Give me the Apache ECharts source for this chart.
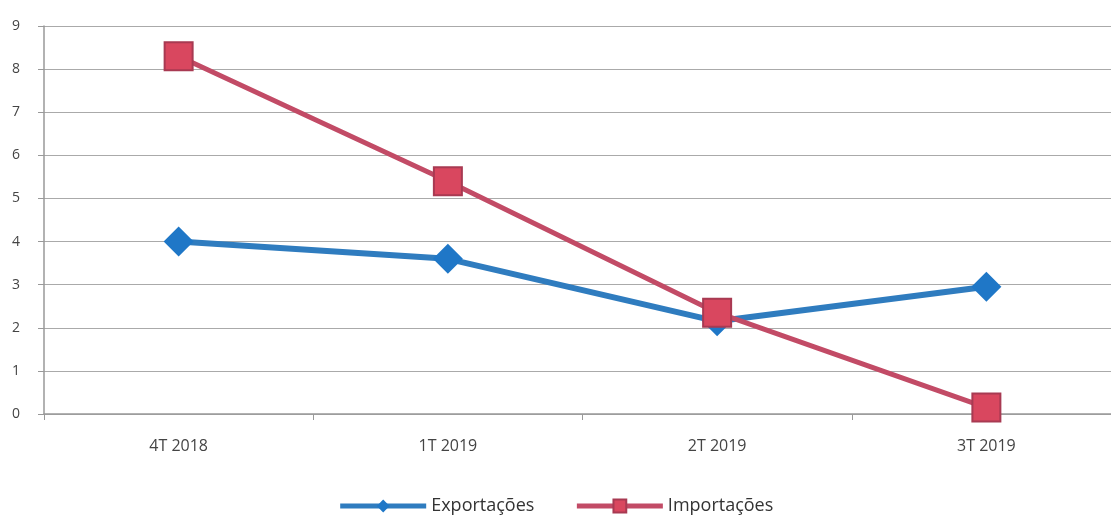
<!DOCTYPE html>
<html style="height: 100%">
<head>
    <meta charset="utf-8">
    <script src="https://cdn.jsdelivr.net/npm/echarts@6/dist/echarts.min.js"></script>
</head>
<body style="height: 100%; margin: 0; background: #fff">
    <div id="main" style="width:1111px; height:520px;"></div>
    <script type="text/javascript">
    // dados
    var trimestres = ['4T 2018', '1T 2019', '2T 2019', '3T 2019'];
    var exportacoes = [4.0, 3.6, 2.15, 2.95];
    var importacoes = [8.3, 5.4, 2.35, 0.15];

    var myChart = echarts.init(document.getElementById('main'));

    var option = {
        animation: false,
        textStyle: { fontFamily: 'Open Sans' },
        grid: {
            left: 44,
            right: -10,
            top: 26,
            bottom: 106,
            outerBoundsMode: 'none'
        },
        legend: {
            bottom: 0,
            left: 'center',
            itemWidth: 86,
            itemHeight: 16,
            itemGap: 40,
            lineStyle: { width: 5 },
            textStyle: { color: '#333', fontSize: 18 },
            data: ['Exportações', 'Importações']
        },
        xAxis: {
            type: 'category',
            data: trimestres,
            boundaryGap: true,
            axisLine: { lineStyle: { color: '#999', width: 1.5 } },
            axisTick: { show: true, length: 6, lineStyle: { color: '#999' } },
            axisLabel: { color: '#444', fontSize: 16, margin: 24 }
        },
        yAxis: {
            type: 'value',
            min: 0,
            max: 9,
            interval: 1,
            axisLine: { show: true, lineStyle: { color: '#999', width: 1.5 } },
            axisTick: { show: true, length: 6, lineStyle: { color: '#999' } },
            axisLabel: { color: '#444', fontSize: 14, margin: 24 },
            splitLine: { lineStyle: { color: '#aaa', width: 1.2 } }
        },
        series: [
            {
                name: 'Exportações',
                type: 'line',
                data: exportacoes,
                symbol: 'diamond',
                symbolSize: 30,
                itemStyle: { color: '#1f77c7' },
                lineStyle: { color: '#2f7cbf', width: 6 },
                z: 2
            },
            {
                name: 'Importações',
                type: 'line',
                data: importacoes,
                symbol: 'rect',
                symbolSize: 28,
                itemStyle: { color: '#d9475f', borderColor: '#a83a52', borderWidth: 2 },
                lineStyle: { color: '#c24b66', width: 5 },
                z: 3
            }
        ]
    };
    myChart.setOption(option);
    </script>
</body>
</html>
